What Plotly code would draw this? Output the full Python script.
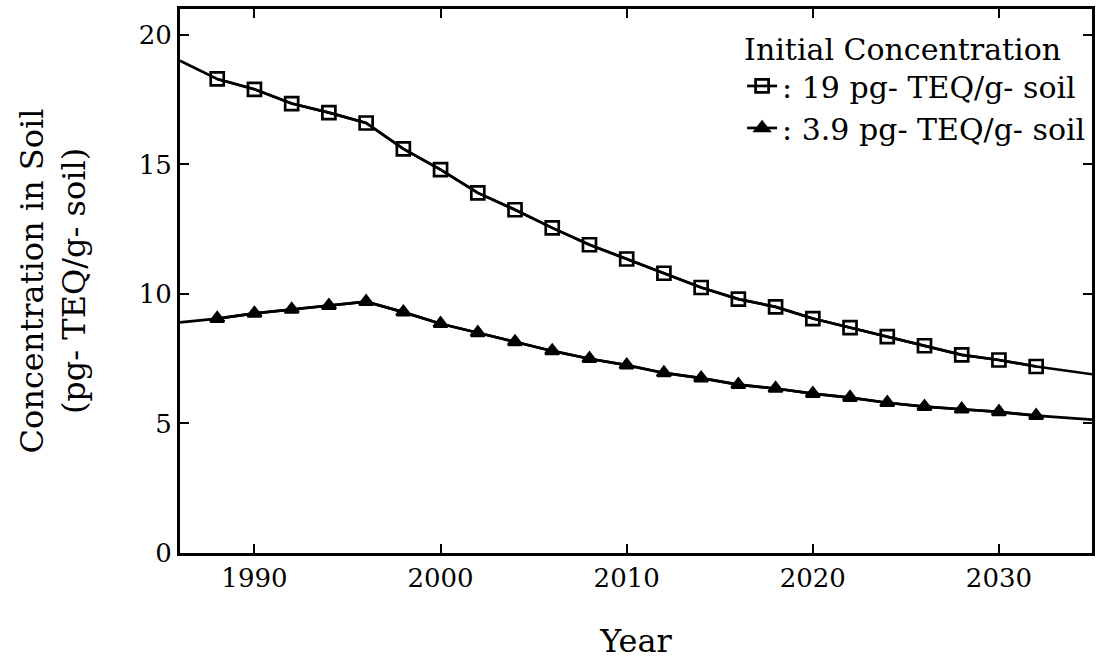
import plotly.graph_objects as go

# ---- data ----
years = [1986, 1988, 1990, 1992, 1994, 1996, 1998, 2000, 2002, 2004, 2006, 2008,
         2010, 2012, 2014, 2016, 2018, 2020, 2022, 2024, 2026, 2028, 2030, 2032, 2035]
conc_19 = [19.0, 18.3, 17.9, 17.35, 17.0, 16.6, 15.6, 14.8, 13.9, 13.25, 12.55, 11.9,
           11.35, 10.8, 10.25, 9.8, 9.5, 9.05, 8.7, 8.35, 8.0, 7.65, 7.45, 7.2, 6.9]
conc_39 = [8.9, 9.05, 9.25, 9.4, 9.55, 9.7, 9.3, 8.85, 8.5, 8.15, 7.8, 7.5,
           7.25, 6.95, 6.75, 6.5, 6.35, 6.15, 6.0, 5.8, 5.65, 5.55, 5.45, 5.3, 5.15]
legend_names = [": 19 pg- TEQ/g- soil", ": 3.9 pg- TEQ/g- soil"]
legend_title = "Initial Concentration"
x_ticks = [1990, 2000, 2010, 2020, 2030]
y_ticks = [0, 5, 10, 15, 20]

FONT = "DejaVu Serif"
fig = go.Figure()

series = [(conc_19, "square-open", 13, legend_names[0]),
          (conc_39, "triangle-up", 12, legend_names[1])]
for vals, sym, sz, name in series:
    # full curve (no markers at the ends)
    fig.add_trace(go.Scatter(x=years, y=vals, mode="lines",
                             line=dict(color="black", width=2.7),
                             showlegend=False, hoverinfo="skip"))
    # marked points
    fig.add_trace(go.Scatter(x=years[1:-1], y=vals[1:-1], mode="lines+markers",
                             name=name,
                             line=dict(color="black", width=2.7),
                             marker=dict(symbol=sym, size=sz, color="black",
                                         line=dict(color="black", width=2.7))))

axis_common = dict(showline=True, linecolor="black", linewidth=3, mirror="ticks",
                   ticks="inside", ticklen=9, tickwidth=2, tickcolor="black",
                   showgrid=False, zeroline=False,
                   tickfont=dict(family=FONT, size=26, color="black"))

fig.update_xaxes(range=[1986, 2035], tickvals=x_ticks, **axis_common,
                 title=dict(text="Year", font=dict(family=FONT, size=32, color="black"),
                            standoff=38))
fig.update_yaxes(range=[0, 21], tickvals=y_ticks, **axis_common,
                 title=dict(text="Concentration in Soil<br>(pg- TEQ/g- soil)",
                            font=dict(family=FONT, size=32, color="black"),
                            standoff=44))

fig.update_layout(
    width=1099, height=666,
    margin=dict(l=180, r=7, t=9, b=113, autoexpand=False),
    paper_bgcolor="white", plot_bgcolor="white",
    showlegend=True,
    legend=dict(x=0.999, xanchor="right", y=0.978, yanchor="top",
                bgcolor="rgba(0,0,0,0)", borderwidth=0,
                font=dict(family=FONT, size=30, color="black"),
                title=dict(text=legend_title, font=dict(family=FONT, size=30, color="black")),
                tracegroupgap=0, itemwidth=30),
)

fig.write_html("out.html")
